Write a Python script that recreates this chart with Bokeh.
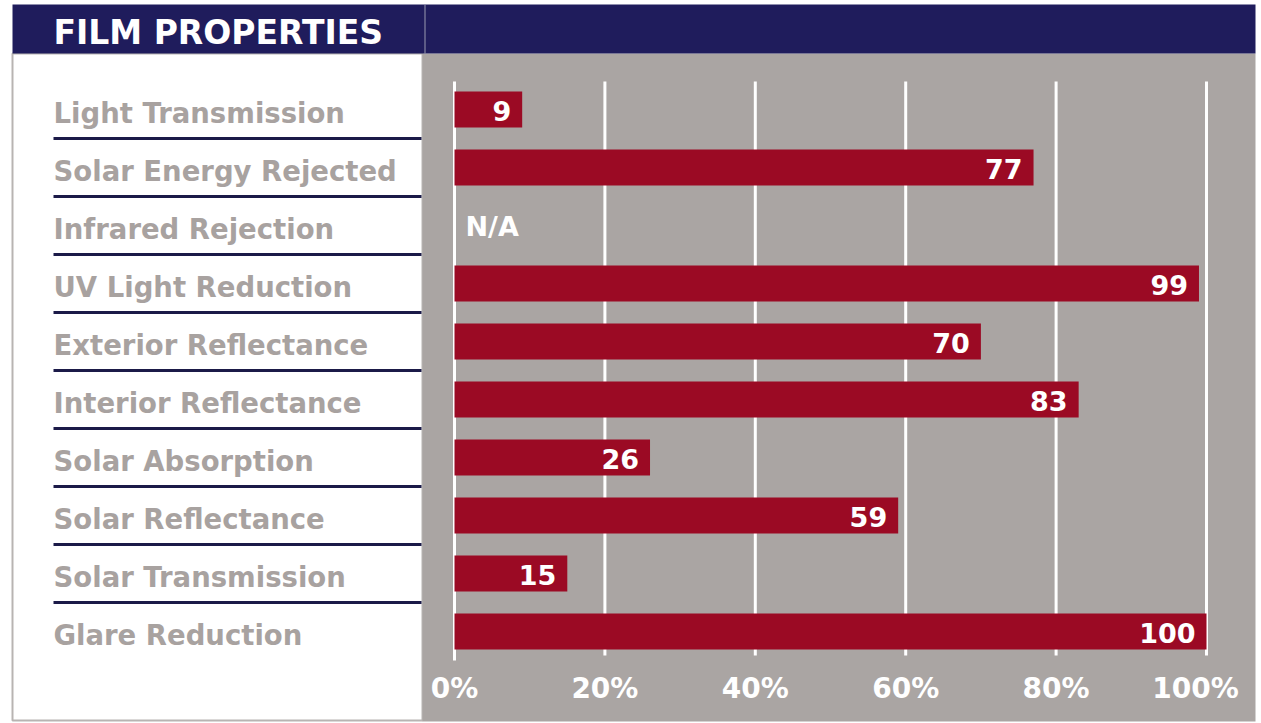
from bokeh.plotting import figure
from bokeh.models import Range1d
from bokeh.core.properties import value
from bokeh.embed import file_html
from bokeh.resources import INLINE

# ---------------- data ----------------
title = "FILM PROPERTIES"
properties = [
    "Light Transmission",
    "Solar Energy Rejected",
    "Infrared Rejection",
    "UV Light Reduction",
    "Exterior Reflectance",
    "Interior Reflectance",
    "Solar Absorption",
    "Solar Reflectance",
    "Solar Transmission",
    "Glare Reduction",
]
values = [9, 77, None, 99, 70, 83, 26, 59, 15, 100]
ticks = [0, 20, 40, 60, 80, 100]
tick_labels = ["0%", "20%", "40%", "60%", "80%", "100%"]
na_label = "N/A"

# ---------------- layout ----------------
W, H = 1261, 723
X0, SX = 454, 7.52      # pixel of 0 % and pixels per percent
Y0, SY = 109, 58        # pixel of first row centre and row pitch

def dx(px):
    return (px - X0) / SX

def dy(py):
    return (py - Y0) / SY

NAVY = "#1f1c5c"
CRIMSON = "#9b0a24"
PANEL = "#aaa5a3"
LABEL = "#a8a2a0"
FONT = value("DejaVu Sans")

p = figure(width=W, height=H,
           x_range=Range1d(dx(0), dx(W)), y_range=Range1d(dy(H), dy(0)),
           x_axis_location=None, y_axis_location=None,
           toolbar_location=None, output_backend="svg",
           min_border=0, outline_line_color=None,
           background_fill_color="white", border_fill_color="white")
p.grid.visible = False

# panels
p.quad(left=[dx(12)], right=[dx(422)], top=[dy(53)], bottom=[dy(720)],
       fill_color="white", line_color="#b8b4b2", line_width=2)
p.quad(left=[dx(422)], right=[dx(1255)], top=[dy(53)], bottom=[dy(721)],
       fill_color=PANEL, line_color=None)
p.quad(left=[dx(12)], right=[dx(1255)], top=[dy(4)], bottom=[dy(53)],
       fill_color=NAVY, line_color=None)
p.segment(x0=[dx(424.5)], x1=[dx(424.5)], y0=[dy(4)], y1=[dy(53)],
          line_color="#9a9ab0", line_width=1)

# title
p.text(x=[dx(53)], y=[dy(32)], text=[title], text_font=FONT,
       text_font_style="bold", text_font_size="33px", text_color="white",
       text_align="left", text_baseline="middle")

rows = list(range(len(properties)))

# vertical gridlines
p.segment(x0=ticks, x1=ticks, y0=[dy(81)] * len(ticks),
          y1=[dy(660) if t == 0 else dy(655) for t in ticks],
          line_color="white", line_width=3)

# bars
bar_rows = [r for r, v in zip(rows, values) if v is not None]
bar_vals = [v for v in values if v is not None]
p.hbar(y=bar_rows, left=0, right=bar_vals, height=36 / SY,
       fill_color=CRIMSON, line_color=None)

# value labels
p.text(x=bar_vals, y=bar_rows, text=[str(v) for v in bar_vals],
       text_font=FONT, text_font_style="bold", text_font_size="27px",
       text_color="white", text_align="right", text_baseline="middle",
       x_offset=-11, y_offset=1)
na_rows = [r for r, v in zip(rows, values) if v is None]
p.text(x=[0] * len(na_rows), y=na_rows, text=[na_label] * len(na_rows),
       text_font=FONT, text_font_style="bold", text_font_size="27px",
       text_color="white", text_align="left", text_baseline="middle",
       x_offset=11, y_offset=1)

# category labels and underlines
p.text(x=[dx(53)] * len(rows), y=rows, text=properties, text_font=FONT,
       text_font_style="bold", text_font_size="27.5px", text_color=LABEL,
       text_align="left", text_baseline="middle", y_offset=3)
p.segment(x0=[dx(53)] * (len(rows) - 1), x1=[dx(421)] * (len(rows) - 1),
          y0=[r + 0.5 for r in rows[:-1]], y1=[r + 0.5 for r in rows[:-1]],
          line_color="#1b1a48", line_width=3)

# tick labels (the last one is pulled in to stay inside the panel)
p.text(x=ticks, y=[dy(688)] * len(ticks), text=tick_labels, text_font=FONT,
       text_font_style="bold", text_font_size="28px", text_color="white",
       text_align="center", text_baseline="middle",
       x_offset=[0 if t < ticks[-1] else -11 for t in ticks])

open("out.html", "w").write(file_html(p, INLINE))
